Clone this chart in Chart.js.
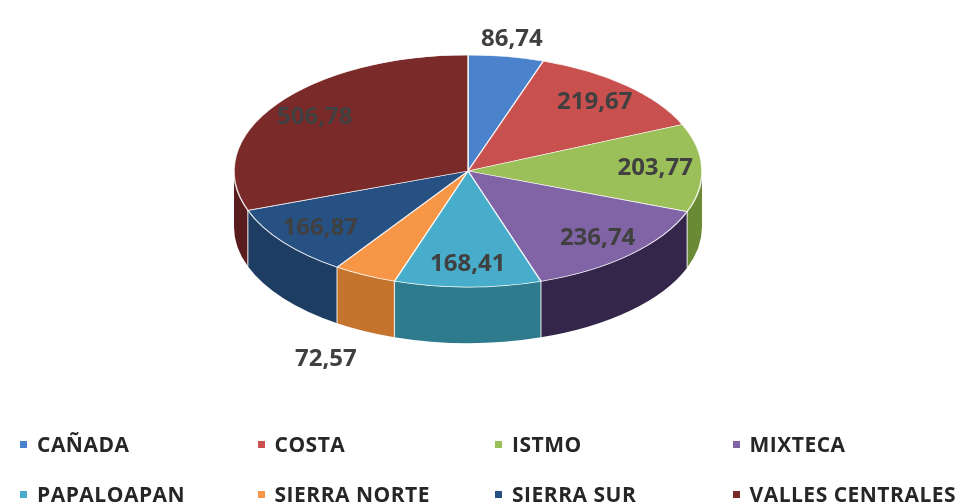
<!DOCTYPE html>
<html>
<head>
<meta charset="utf-8">
<script src="https://cdn.jsdelivr.net/npm/chart.js@4.4.1/dist/chart.umd.min.js"></script>
<style>
  html, body { margin: 0; background: #fff; }
  #wrap { position: relative; width: 970px; height: 504px; overflow: hidden; }
  #chartBox { position: absolute; left: 0; top: 0; width: 970px; height: 420px; }
  #legend { position: absolute; left: 20px; top: 419px; width: 950px;
            font: bold 21px 'Open Sans', sans-serif; letter-spacing: 0.5px; color: #262626; }
  .row { display: flex; height: 50px; align-items: center; }
  .item { width: 241px; display: flex; align-items: center; white-space: nowrap; }
  .sw { width: 7px; height: 7px; margin-right: 10px; flex: none; }
</style>
</head>
<body>
<div id="wrap">
  <div id="chartBox"><canvas id="grafica"></canvas></div>
  <div id="legend"></div>
</div>
<script>
// Superficie por región
const regiones = ['CAÑADA', 'COSTA', 'ISTMO', 'MIXTECA', 'PAPALOAPAN', 'SIERRA NORTE', 'SIERRA SUR', 'VALLES CENTRALES'];
const superficie = [86.74, 219.67, 203.77, 236.74, 168.41, 72.57, 166.87, 506.78];

// cara superior / costado del pastel 3D
const coloresCara = ['#4a83cc', '#c8504e', '#9bbf59', '#8064a5', '#48adcb', '#f79646', '#275083', '#7b2a2a'];
const coloresLado = ['#2f5a8e', '#8c3432', '#6b8a36', '#33264a', '#2d7b8d', '#c5742d', '#1e3d63', '#5a1d1e'];

const PROF = 56;      // grosor del disco (px)
const K = 0.496;      // aplastamiento vertical

const fmt = v => v.toFixed(2).replace('.', ',');

/** Pastel inclinado: costados + cara aplastada + etiquetas */
const pie3d = {
  id: 'pie3d',
  beforeDatasetsDraw(chart) {
    const ctx = chart.ctx;
    const arcs = chart.getDatasetMeta(0).data;
    const { x: cx, y: cy, outerRadius: r } = arcs[0].getProps(['x', 'y', 'outerRadius'], true);

    arcs.forEach((arc, i) => {
      const p = arc.getProps(['startAngle', 'endAngle'], true);
      const a0 = Math.max(p.startAngle, 0), a1 = Math.min(p.endAngle, Math.PI);
      if (a1 <= a0) return;
      ctx.beginPath();
      ctx.ellipse(cx, cy, r, r * K, 0, a0, a1);
      ctx.ellipse(cx, cy + PROF, r, r * K, 0, a1, a0, true);
      ctx.closePath();
      ctx.fillStyle = coloresLado[i];
      ctx.fill();
    });

    // separaciones en el costado
    ctx.save();
    ctx.strokeStyle = 'rgba(255,255,255,0.75)';
    ctx.lineWidth = 1.2;
    arcs.forEach(arc => {
      const a = arc.getProps(['startAngle'], true).startAngle;
      if (a <= 0 || a >= Math.PI) return;
      const x = cx + Math.cos(a) * r, y = cy + Math.sin(a) * r * K;
      ctx.beginPath();
      ctx.moveTo(x, y);
      ctx.lineTo(x, y + PROF);
      ctx.stroke();
    });
    ctx.restore();

    ctx.save();
    ctx.translate(cx, cy);
    ctx.scale(1, K);
    ctx.translate(-cx, -cy);
  },
  afterDatasetsDraw(chart) {
    const ctx = chart.ctx;
    ctx.restore();

    const arcs = chart.getDatasetMeta(0).data;
    const total = superficie.reduce((s, v) => s + v, 0);
    ctx.save();
    ctx.font = 'bold 24px "Open Sans"';
    ctx.fillStyle = '#404040';
    ctx.textBaseline = 'middle';
    arcs.forEach((arc, i) => {
      const p = arc.getProps(['x', 'y', 'startAngle', 'endAngle', 'outerRadius'], true);
      const m = (p.startAngle + p.endAngle) / 2;
      const c = Math.cos(m), s = Math.sin(m);
      ctx.textAlign = 'center';
      if (superficie[i] / total >= 0.06) {
        ctx.fillText(fmt(superficie[i]), p.x + c * p.outerRadius * 0.8, p.y + s * p.outerRadius * K * 0.8);
        return;
      }
      // etiquetas fuera del disco
      let x = p.x + c * p.outerRadius * 1.15;
      let y = p.y + s * p.outerRadius * K * 1.15;
      if (s > 0) {
        ctx.textAlign = c < 0 ? 'right' : 'left';
        x = p.x + c * p.outerRadius + Math.sign(c) * 8;
        y += PROF + 12;
      }
      ctx.fillText(fmt(superficie[i]), x, y);
    });
    ctx.restore();
  }
};

new Chart(document.getElementById('grafica'), {
  type: 'pie',
  data: {
    labels: regiones,
    datasets: [{
      data: superficie,
      backgroundColor: coloresCara,
      borderColor: 'rgba(255,255,255,0.85)',
      borderWidth: 1.5,
      clip: false
    }]
  },
  options: {
    responsive: true, maintainAspectRatio: false,
    animation: false,
    events: [],
    radius: 234,
    layout: { padding: { left: 0, top: 0, right: 34, bottom: 78 } },
    plugins: { legend: { display: false }, tooltip: { enabled: false } }
  },
  plugins: [pie3d]
});

// leyenda en cuadrícula de 4 columnas
const legend = document.getElementById('legend');
for (let fila = 0; fila < 2; fila++) {
  const row = document.createElement('div');
  row.className = 'row';
  regiones.slice(fila * 4, fila * 4 + 4).forEach((nombre, j) => {
    const item = document.createElement('div');
    item.className = 'item';
    const sw = document.createElement('span');
    sw.className = 'sw';
    sw.style.background = coloresCara[fila * 4 + j];
    const txt = document.createElement('span');
    txt.textContent = nombre;
    item.append(sw, txt);
    row.append(item);
  });
  legend.append(row);
}
</script>
</body>
</html>
